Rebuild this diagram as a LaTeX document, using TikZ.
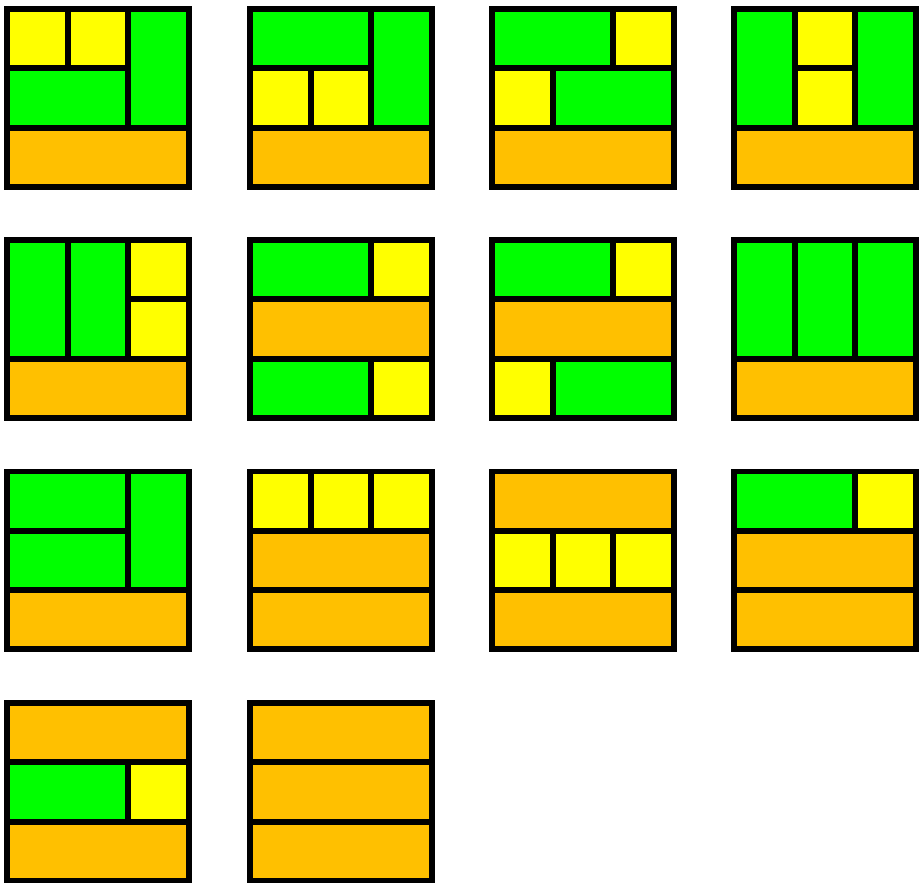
\documentclass[tikz,border=0pt]{standalone}
\usepackage{tikz}
\definecolor{cyellow}{HTML}{FFFF00}
\definecolor{cgreen}{HTML}{00FF00}
\definecolor{corange}{HTML}{FFC000}

\begin{document}
\begin{tikzpicture}[
    x=1.214cm, y=-1.186cm,
    piece/.style={draw=black, line width=3.4pt},
    sq/.style={piece, fill=cyellow},
    dom/.style={piece, fill=cgreen},
    tri/.style={piece, fill=corange},
]
\useasboundingbox (0,0) rectangle (15.19,14.89);
% row 1
\begin{scope}[shift={(0.115,0.152)}]
\draw[sq]  (0,0) rectangle (1,1);
\draw[sq]  (1,0) rectangle (2,1);
\draw[dom] (2,0) rectangle (3,2);
\draw[dom] (0,1) rectangle (2,2);
\draw[tri] (0,2) rectangle (3,3);
\end{scope}
\begin{scope}[shift={(4.119,0.152)}]
\draw[dom] (0,0) rectangle (2,1);
\draw[dom] (2,0) rectangle (3,2);
\draw[sq]  (0,1) rectangle (1,2);
\draw[sq]  (1,1) rectangle (2,2);
\draw[tri] (0,2) rectangle (3,3);
\end{scope}
\begin{scope}[shift={(8.105,0.152)}]
\draw[dom] (0,0) rectangle (2,1);
\draw[sq]  (2,0) rectangle (3,1);
\draw[sq]  (0,1) rectangle (1,2);
\draw[dom] (1,1) rectangle (3,2);
\draw[tri] (0,2) rectangle (3,3);
\end{scope}
\begin{scope}[shift={(12.092,0.152)}]
\draw[dom] (0,0) rectangle (1,2);
\draw[sq]  (1,0) rectangle (2,1);
\draw[sq]  (1,1) rectangle (2,2);
\draw[dom] (2,0) rectangle (3,2);
\draw[tri] (0,2) rectangle (3,3);
\end{scope}
% row 2
\begin{scope}[shift={(0.115,4.047)}]
\draw[dom] (0,0) rectangle (1,2);
\draw[dom] (1,0) rectangle (2,2);
\draw[sq]  (2,0) rectangle (3,1);
\draw[sq]  (2,1) rectangle (3,2);
\draw[tri] (0,2) rectangle (3,3);
\end{scope}
\begin{scope}[shift={(4.119,4.047)}]
\draw[dom] (0,0) rectangle (2,1);
\draw[sq]  (2,0) rectangle (3,1);
\draw[tri] (0,1) rectangle (3,2);
\draw[dom] (0,2) rectangle (2,3);
\draw[sq]  (2,2) rectangle (3,3);
\end{scope}
\begin{scope}[shift={(8.105,4.047)}]
\draw[dom] (0,0) rectangle (2,1);
\draw[sq]  (2,0) rectangle (3,1);
\draw[tri] (0,1) rectangle (3,2);
\draw[sq]  (0,2) rectangle (1,3);
\draw[dom] (1,2) rectangle (3,3);
\end{scope}
\begin{scope}[shift={(12.092,4.047)}]
\draw[dom] (0,0) rectangle (1,2);
\draw[dom] (1,0) rectangle (2,2);
\draw[dom] (2,0) rectangle (3,2);
\draw[tri] (0,2) rectangle (3,3);
\end{scope}
% row 3
\begin{scope}[shift={(0.115,7.951)}]
\draw[dom] (0,0) rectangle (2,1);
\draw[dom] (2,0) rectangle (3,2);
\draw[dom] (0,1) rectangle (2,2);
\draw[tri] (0,2) rectangle (3,3);
\end{scope}
\begin{scope}[shift={(4.119,7.951)}]
\draw[sq]  (0,0) rectangle (1,1);
\draw[sq]  (1,0) rectangle (2,1);
\draw[sq]  (2,0) rectangle (3,1);
\draw[tri] (0,1) rectangle (3,2);
\draw[tri] (0,2) rectangle (3,3);
\end{scope}
\begin{scope}[shift={(8.105,7.951)}]
\draw[tri] (0,0) rectangle (3,1);
\draw[sq]  (0,1) rectangle (1,2);
\draw[sq]  (1,1) rectangle (2,2);
\draw[sq]  (2,1) rectangle (3,2);
\draw[tri] (0,2) rectangle (3,3);
\end{scope}
\begin{scope}[shift={(12.092,7.951)}]
\draw[dom] (0,0) rectangle (2,1);
\draw[sq]  (2,0) rectangle (3,1);
\draw[tri] (0,1) rectangle (3,2);
\draw[tri] (0,2) rectangle (3,3);
\end{scope}
% row 4
\begin{scope}[shift={(0.115,11.855)}]
\draw[tri] (0,0) rectangle (3,1);
\draw[dom] (0,1) rectangle (2,2);
\draw[sq]  (2,1) rectangle (3,2);
\draw[tri] (0,2) rectangle (3,3);
\end{scope}
\begin{scope}[shift={(4.119,11.855)}]
\draw[tri] (0,0) rectangle (3,1);
\draw[tri] (0,1) rectangle (3,2);
\draw[tri] (0,2) rectangle (3,3);
\end{scope}
\end{tikzpicture}
\end{document}
